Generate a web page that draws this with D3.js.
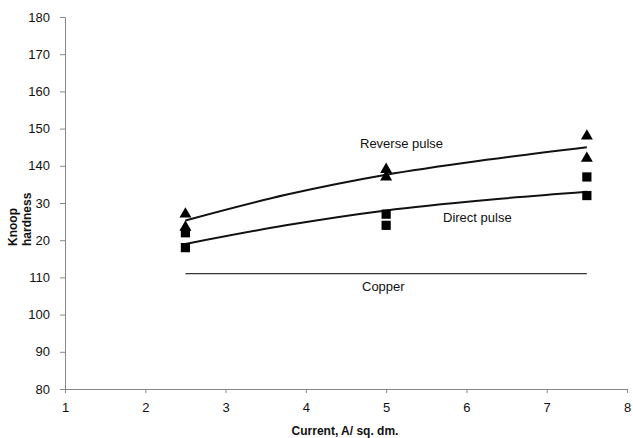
<!DOCTYPE html>
<html>
  <head>
    <script type="text/javascript" src="https://cdn.jsdelivr.net/npm/d3@7"></script>
    <style>
      body { margin: 0; background: #fff; }
      text { font-family: "Liberation Sans", Arial, sans-serif; fill: #111; }
      .axis path, .axis line { stroke: #888; }
      .axis text { font-size: 13px; }
    </style>
  </head>
  <body>
    <script type="text/javascript">
      WIDTH = 633
      HEIGHT = 438

      // measured points (current, knoop hardness)
      var reverseX = [2.5, 2.5, 5, 5, 7.5, 7.5]
      var reverseY = [127, 123.5, 139, 137, 148, 142]
      var directX = [2.5, 2.5, 5, 5, 7.5, 7.5]
      var directY = [122, 118, 127, 124, 137, 132]

      // fitted trend curves
      var trendX = [2.5, 3.75, 5, 6.25, 7.5]
      var reverseTrend = [125.3, 132.2, 137.6, 141.6, 145]
      var directTrend = [119, 124, 128, 130.8, 133]
      var copperX = [2.5, 7.5]
      var copperY = [111, 111]

      var xTicks = [1, 2, 3, 4, 5, 6, 7, 8]
      var yTicks = [80, 90, 100, 110, 120, 130, 140, 150, 160, 170, 180]
      // tick labels as printed (two are partly covered by the axis title)
      var yTickLabels = ["80", "90", "100", "110", "20", "30", "140", "150", "160", "170", "180"]

      var svg = d3.select("body").append("svg")
        .attr("width", WIDTH)
        .attr("height", HEIGHT)

      var xscale = d3.scaleLinear().domain([1, 8]).range([65, 627])
      var yscale = d3.scaleLinear().domain([80, 180]).range([389, 17])

      // axes
      svg.append("g").attr("class", "axis")
        .attr("transform", "translate(0,389)")
        .call(d3.axisBottom(xscale).tickValues(xTicks).tickSize(4).tickPadding(10).tickFormat(d3.format("d")))
      svg.append("g").attr("class", "axis")
        .attr("transform", "translate(65,0)")
        .call(d3.axisLeft(yscale).tickValues(yTicks).tickSize(5).tickPadding(10)
          .tickFormat(function(d, i) { return yTickLabels[i] }))

      // lines
      var line = d3.line()
        .x(function(d) { return xscale(d[0]) })
        .y(function(d) { return yscale(d[1]) })
        .curve(d3.curveMonotoneX)

      function drawLine(xs, ys, w, c) {
        svg.append("path")
          .datum(xs.map(function(x, i) { return [x, ys[i]] }))
          .attr("d", line)
          .attr("fill", "none")
          .attr("stroke", c)
          .attr("stroke-width", w)
      }
      drawLine(trendX, reverseTrend, 2, "#111")
      drawLine(trendX, directTrend, 2, "#111")
      drawLine(copperX, copperY, 1.3, "#333")

      // markers
      svg.selectAll(".tri").data(reverseX).enter()
        .append("path").attr("class", "tri")
        .attr("d", d3.symbol().type(d3.symbolTriangle).size(62))
        .attr("transform", function(d, i) {
          return "translate(" + xscale(d) + "," + yscale(reverseY[i]) + ")" })
        .attr("fill", "#000")
      svg.selectAll(".sq").data(directX).enter()
        .append("path").attr("class", "sq")
        .attr("d", d3.symbol().type(d3.symbolSquare).size(85))
        .attr("transform", function(d, i) {
          return "translate(" + xscale(d) + "," + yscale(directY[i]) + ")" })
        .attr("fill", "#000")

      // series labels
      svg.append("text").attr("x", 360).attr("y", 148).attr("font-size", 13).text("Reverse pulse")
      svg.append("text").attr("x", 443).attr("y", 222).attr("font-size", 13).text("Direct pulse")
      svg.append("text").attr("x", 362).attr("y", 291).attr("font-size", 13).text("Copper")

      // axis titles
      svg.append("text")
        .attr("x", 345).attr("y", 435)
        .attr("text-anchor", "middle")
        .attr("font-size", 12).attr("font-weight", "bold")
        .text("Current, A/ sq. dm.")
      svg.append("text")
        .attr("transform", "translate(17,246) rotate(-90)")
        .attr("font-size", 12).attr("font-weight", "bold")
        .text("Knoop")
      svg.append("text")
        .attr("transform", "translate(31,246) rotate(-90)")
        .attr("font-size", 12).attr("font-weight", "bold")
        .text("hardness")
    </script>
  </body>
</html>
